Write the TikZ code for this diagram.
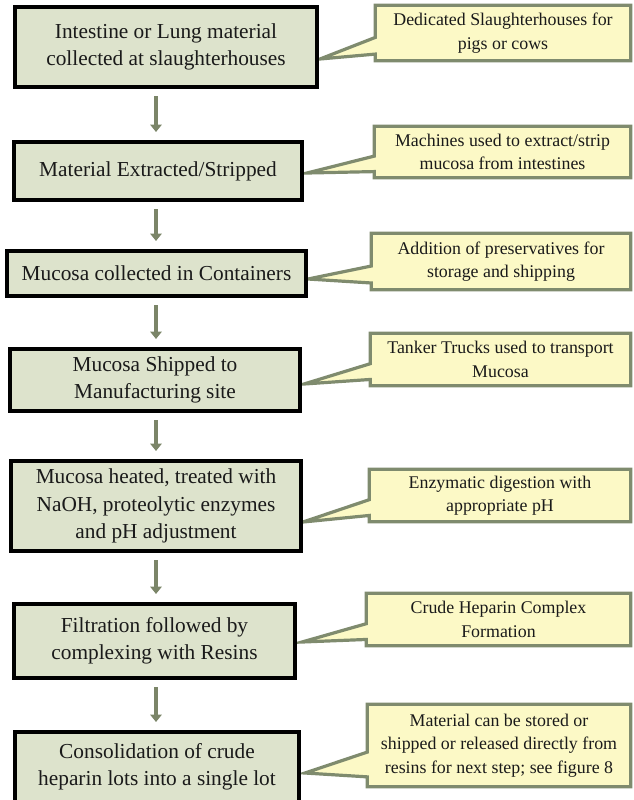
\documentclass[tikz,border=0pt]{standalone}
\usepackage{fontspec}
\setmainfont{Liberation Serif}
\usetikzlibrary{arrows.meta,backgrounds,calc}
\definecolor{boxfill}{HTML}{DDE3CC}
\definecolor{callfill}{HTML}{FCF9C6}
\definecolor{callline}{HTML}{7F8B6E}
\definecolor{arrcol}{HTML}{7B8568}
\definecolor{txt}{HTML}{1A1A1A}
\tikzset{
  stepbox/.style={draw=black, line width=3pt, fill=boxfill, align=center, text=txt,
    font=\fontsize{16}{20.5}\selectfont, inner sep=0pt},
  note/.style={align=center, text=txt, font=\fontsize{13.4}{17.5}\selectfont, inner sep=0pt},
  calloutline/.style={draw=callline, fill=callfill, line width=2.4pt, line join=miter},
  arr/.style={draw=arrcol, line width=3.5pt, -{Triangle[width=8.5pt,length=5.5pt]},
    shorten <=5.6pt, shorten >=6pt}
}
\newcommand\callshape[2]{%
  \path[calloutline] (#1.north west) -- (#1.north east) -- (#1.south east) -- (#1.south west)
    -- ($(#1.south west)!0.12!(#1.north west)$) -- (#2)
    -- ($(#1.south west)!0.42!(#1.north west)$) -- cycle;}
\begin{document}
\begin{tikzpicture}[x=0.75pt,y=-0.75pt]
\useasboundingbox (0,0) rectangle (633,800);
% process boxes
\node[stepbox, minimum width=226.5pt, minimum height=60pt] (b1) at (166,47)
  {Intestine or Lung material\\collected at slaughterhouses};
\node[stepbox, minimum width=216pt, minimum height=43.5pt] (b2) at (158,171)
  {Material Extracted/Stripped};
\node[stepbox, minimum width=224.25pt, minimum height=33.75pt] (b3) at (156.5,273.5)
  {Mucosa collected in Containers};
\node[stepbox, minimum width=217.5pt, minimum height=46.5pt] (b4) at (155,380)
  {Mucosa Shipped to\\Manufacturing site};
\node[stepbox, minimum width=217.5pt, minimum height=67.5pt] (b5) at (156,506)
  {Mucosa heated, treated with\\NaOH, proteolytic enzymes\\and pH adjustment};
\node[stepbox, minimum width=210.75pt, minimum height=55.5pt] (b6) at (154.5,641)
  {Filtration followed by\\complexing with Resins};
\node[stepbox, minimum width=213pt, minimum height=52.5pt] (b7) at (157,767)
  {Consolidation of crude\\heparin lots into a single lot};
% arrows
\coordinate (ax) at (156,0);
\draw[arr] (b1.south -| ax) -- (b2.north -| ax);
\draw[arr] (b2.south -| ax) -- (b3.north -| ax);
\draw[arr] (b3.south -| ax) -- (b4.north -| ax);
\draw[arr] (b4.south -| ax) -- (b5.north -| ax);
\draw[arr] (b5.south -| ax) -- (b6.north -| ax);
\draw[arr] (b6.south -| ax) -- (b7.north -| ax);
% callout notes
\node[note, minimum width=191.25pt, minimum height=41.25pt] (c1) at (503,33)
  {Dedicated Slaughterhouses for\\pigs or cows};
\node[note, minimum width=192pt, minimum height=38.25pt] (c2) at (502.5,152)
  {Machines used to extract/strip\\mucosa from intestines};
\node[note, minimum width=194.25pt, minimum height=42pt] (c3) at (501,261.5)
  {Addition of preservatives for\\storage and shipping};
\node[note, minimum width=195pt, minimum height=39pt] (c4) at (500.5,359.5)
  {Tanker Trucks used to transport\\Mucosa};
\node[note, minimum width=195.75pt, minimum height=39pt] (c5) at (500,495.5)
  {Enzymatic digestion with\\appropriate pH};
\node[note, minimum width=198pt, minimum height=39pt] (c6) at (498.5,619.5)
  {Crude Heparin Complex\\Formation};
\node[note, minimum width=197.25pt, minimum height=61.5pt] (c7) at (499,745.5)
  {Material can be stored or\\shipped or released directly from\\resins for next step; see figure 8};
\coordinate (t1) at (320,59);
\coordinate (t2) at (307,173);
\coordinate (t3) at (308,279);
\coordinate (t4) at (304,384);
\coordinate (t5) at (303,522);
\coordinate (t6) at (302,642);
\coordinate (t7) at (305,773);
\begin{scope}[on background layer]
  \callshape{c1}{t1}
  \callshape{c2}{t2}
  \callshape{c3}{t3}
  \callshape{c4}{t4}
  \callshape{c5}{t5}
  \callshape{c6}{t6}
  \callshape{c7}{t7}
\end{scope}
\end{tikzpicture}
\end{document}
